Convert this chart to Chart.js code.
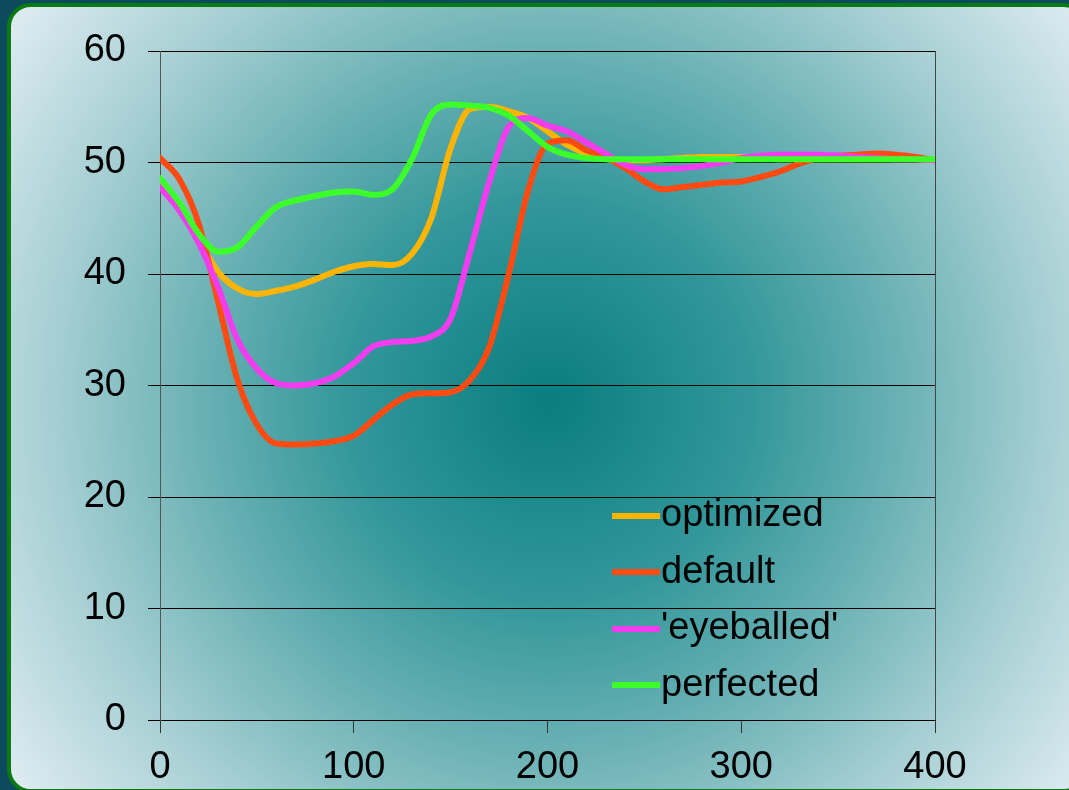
<!DOCTYPE html>
<html>
<head>
<meta charset="utf-8">
<script src="https://cdn.jsdelivr.net/npm/chart.js@4/dist/chart.umd.min.js"></script>
<style>
  html { overflow: hidden; }
  body {
    margin: 0;
    width: 1069px;
    height: 790px;
    overflow: hidden;
    position: relative;
    background: #0c4a5e;
    font-family: "Liberation Sans", Arial, sans-serif;
  }
  #panel {
    position: absolute;
    left: 7px;
    top: 3px;
    width: 1072px;
    height: 782px;
    border: 4px solid #0a7a12;
    border-radius: 24px;
    background: radial-gradient(circle at 539px 393px,
      #0a7d7e 0px, #32979a 200px, #6ab1b4 350px, #a6cfd3 500px, #e8f1f7 690px);
  }
  #wrap {
    position: absolute;
    left: 0;
    top: 0;
    width: 1069px;
    height: 790px;
  }
  #legend {
    position: absolute;
    left: 612px;
    top: 485px;
  }
  .row {
    height: 56.5px;
    line-height: 57px;
    font-size: 38px;
    color: #000;
    white-space: nowrap;
  }
  .swatch {
    display: inline-block;
    width: 48px;
    height: 6px;
    vertical-align: middle;
    margin-right: 1px;
  }
</style>
</head>
<body>
<div id="panel"></div>
<div id="wrap"><canvas id="chart" width="1069" height="790"></canvas></div>
<div id="legend"></div>
<script>
const xValues = [0, 10, 20, 30, 40, 50, 60, 70, 80, 90, 100, 110, 120, 130, 140, 150, 160, 170, 180, 190, 200,
  210, 220, 230, 240, 250, 260, 270, 280, 290, 300, 310, 320, 330, 340, 350, 360, 370, 380, 390, 400];

const optimized = [48.3, 46.0, 43.0, 40.2, 38.7, 38.2, 38.5, 38.9, 39.5, 40.2, 40.7, 40.9, 40.8, 41.8, 45.0, 51.3,
  54.8, 55.0, 54.6, 54.0, 52.8, 51.6, 50.8, 50.3, 50.2, 50.2, 50.3, 50.4, 50.5, 50.5, 50.5, 50.4, 50.3, 50.3,
  50.3, 50.3, 50.3, 50.3, 50.3, 50.3, 50.2];
const defaultSeries = [50.4, 48.5, 44.5, 37.5, 30.5, 26.5, 24.8, 24.7, 24.8, 25.0, 25.5, 26.9, 28.3, 29.2, 29.3,
  29.4, 30.5, 33.5, 40.0, 47.5, 51.7, 52.0, 51.1, 50.5, 49.5, 48.3, 47.6, 47.8, 48.0, 48.2, 48.3, 48.7, 49.2,
  49.9, 50.4, 50.6, 50.7, 50.8, 50.7, 50.5, 50.2];
const eyeballed = [47.8, 45.7, 42.8, 38.8, 34.1, 31.5, 30.2, 30.0, 30.2, 30.8, 32.0, 33.5, 33.9, 34.0, 34.4, 36.0,
  42.0, 48.3, 53.2, 54.0, 53.3, 52.8, 51.8, 50.8, 49.8, 49.4, 49.4, 49.5, 49.7, 50.0, 50.4, 50.6, 50.7, 50.7,
  50.7, 50.6, 50.5, 50.4, 50.3, 50.3, 50.2];
const perfected = [48.6, 46.4, 43.6, 42.0, 42.4, 44.3, 46.0, 46.6, 47.0, 47.3, 47.4, 47.1, 47.6, 50.3, 54.3, 55.2,
  55.1, 54.9, 54.2, 52.8, 51.4, 50.7, 50.4, 50.3, 50.3, 50.3, 50.3, 50.3, 50.3, 50.3, 50.3, 50.3, 50.3, 50.3,
  50.3, 50.3, 50.3, 50.3, 50.3, 50.3, 50.3];

const seriesNames = ["optimized", "default", "'eyeballed'", "perfected"];
const seriesColors = ["#ffb400", "#ff4a12", "#f23cf0", "#3cff2a"];
const seriesValues = [optimized, defaultSeries, eyeballed, perfected];

const yTicks = [0, 10, 20, 30, 40, 50, 60];
const xTicks = [0, 100, 200, 300, 400];

const tickFont = { family: "'Liberation Sans', Arial, sans-serif", size: 38 };

function toPoints(values) {
  return values.map((v, i) => ({ x: xValues[i], y: v }));
}

function buildDatasets() {
  // later series sit on top, like the original
  return seriesNames.map((name, i) => ({
    label: name,
    data: toPoints(seriesValues[i]),
    borderColor: seriesColors[i],
    borderWidth: 6,
    pointRadius: 0,
    fill: false,
    cubicInterpolationMode: "monotone",
    borderCapStyle: "round",
    borderJoinStyle: "round",
    order: seriesNames.length - i,
  }));
}

function buildLegend() {
  const legend = document.getElementById("legend");
  legend.innerHTML = seriesNames
    .map(
      (name, i) =>
        `<div class="row"><span class="swatch" style="background:${seriesColors[i]}"></span>${name}</div>`
    )
    .join("");
}

function createChart() {
  const ctx = document.getElementById("chart").getContext("2d");
  return new Chart(ctx, {
    type: "line",
    data: { datasets: buildDatasets() },
    options: {
      responsive: false,
      animation: false,
      devicePixelRatio: 1,
      layout: { padding: { left: 0, top: 51, right: 134, bottom: 0 } },
      plugins: {
        legend: { display: false },
        tooltip: { enabled: false },
      },
      scales: {
        x: {
          type: "linear",
          min: 0,
          max: 400,
          afterBuildTicks: (scale) => {
            scale.ticks = xTicks.map((v) => ({ value: v }));
          },
          afterFit: (scale) => {
            scale.height = 70;
          },
          ticks: { font: tickFont, color: "#000", padding: 12, maxRotation: 0 },
          grid: {
            drawOnChartArea: true,
            color: (c) => (c.tick && c.tick.value === 400 ? "#444" : "rgba(0,0,0,0)"),
            tickColor: "#333",
            tickLength: 13,
            lineWidth: 1,
          },
          border: { display: true, color: "#000", width: 1 },
        },
        y: {
          min: 0,
          max: 60,
          afterBuildTicks: (scale) => {
            scale.ticks = yTicks.map((v) => ({ value: v }));
          },
          afterFit: (scale) => {
            scale.width = 160;
          },
          ticks: { font: tickFont, color: "#000", padding: 22 },
          grid: {
            color: "#000",
            tickColor: "#000",
            tickLength: 12,
            lineWidth: 1,
          },
          border: { display: true, color: "#555", width: 1 },
        },
      },
    },
  });
}

buildLegend();
createChart();
</script>
</body>
</html>
